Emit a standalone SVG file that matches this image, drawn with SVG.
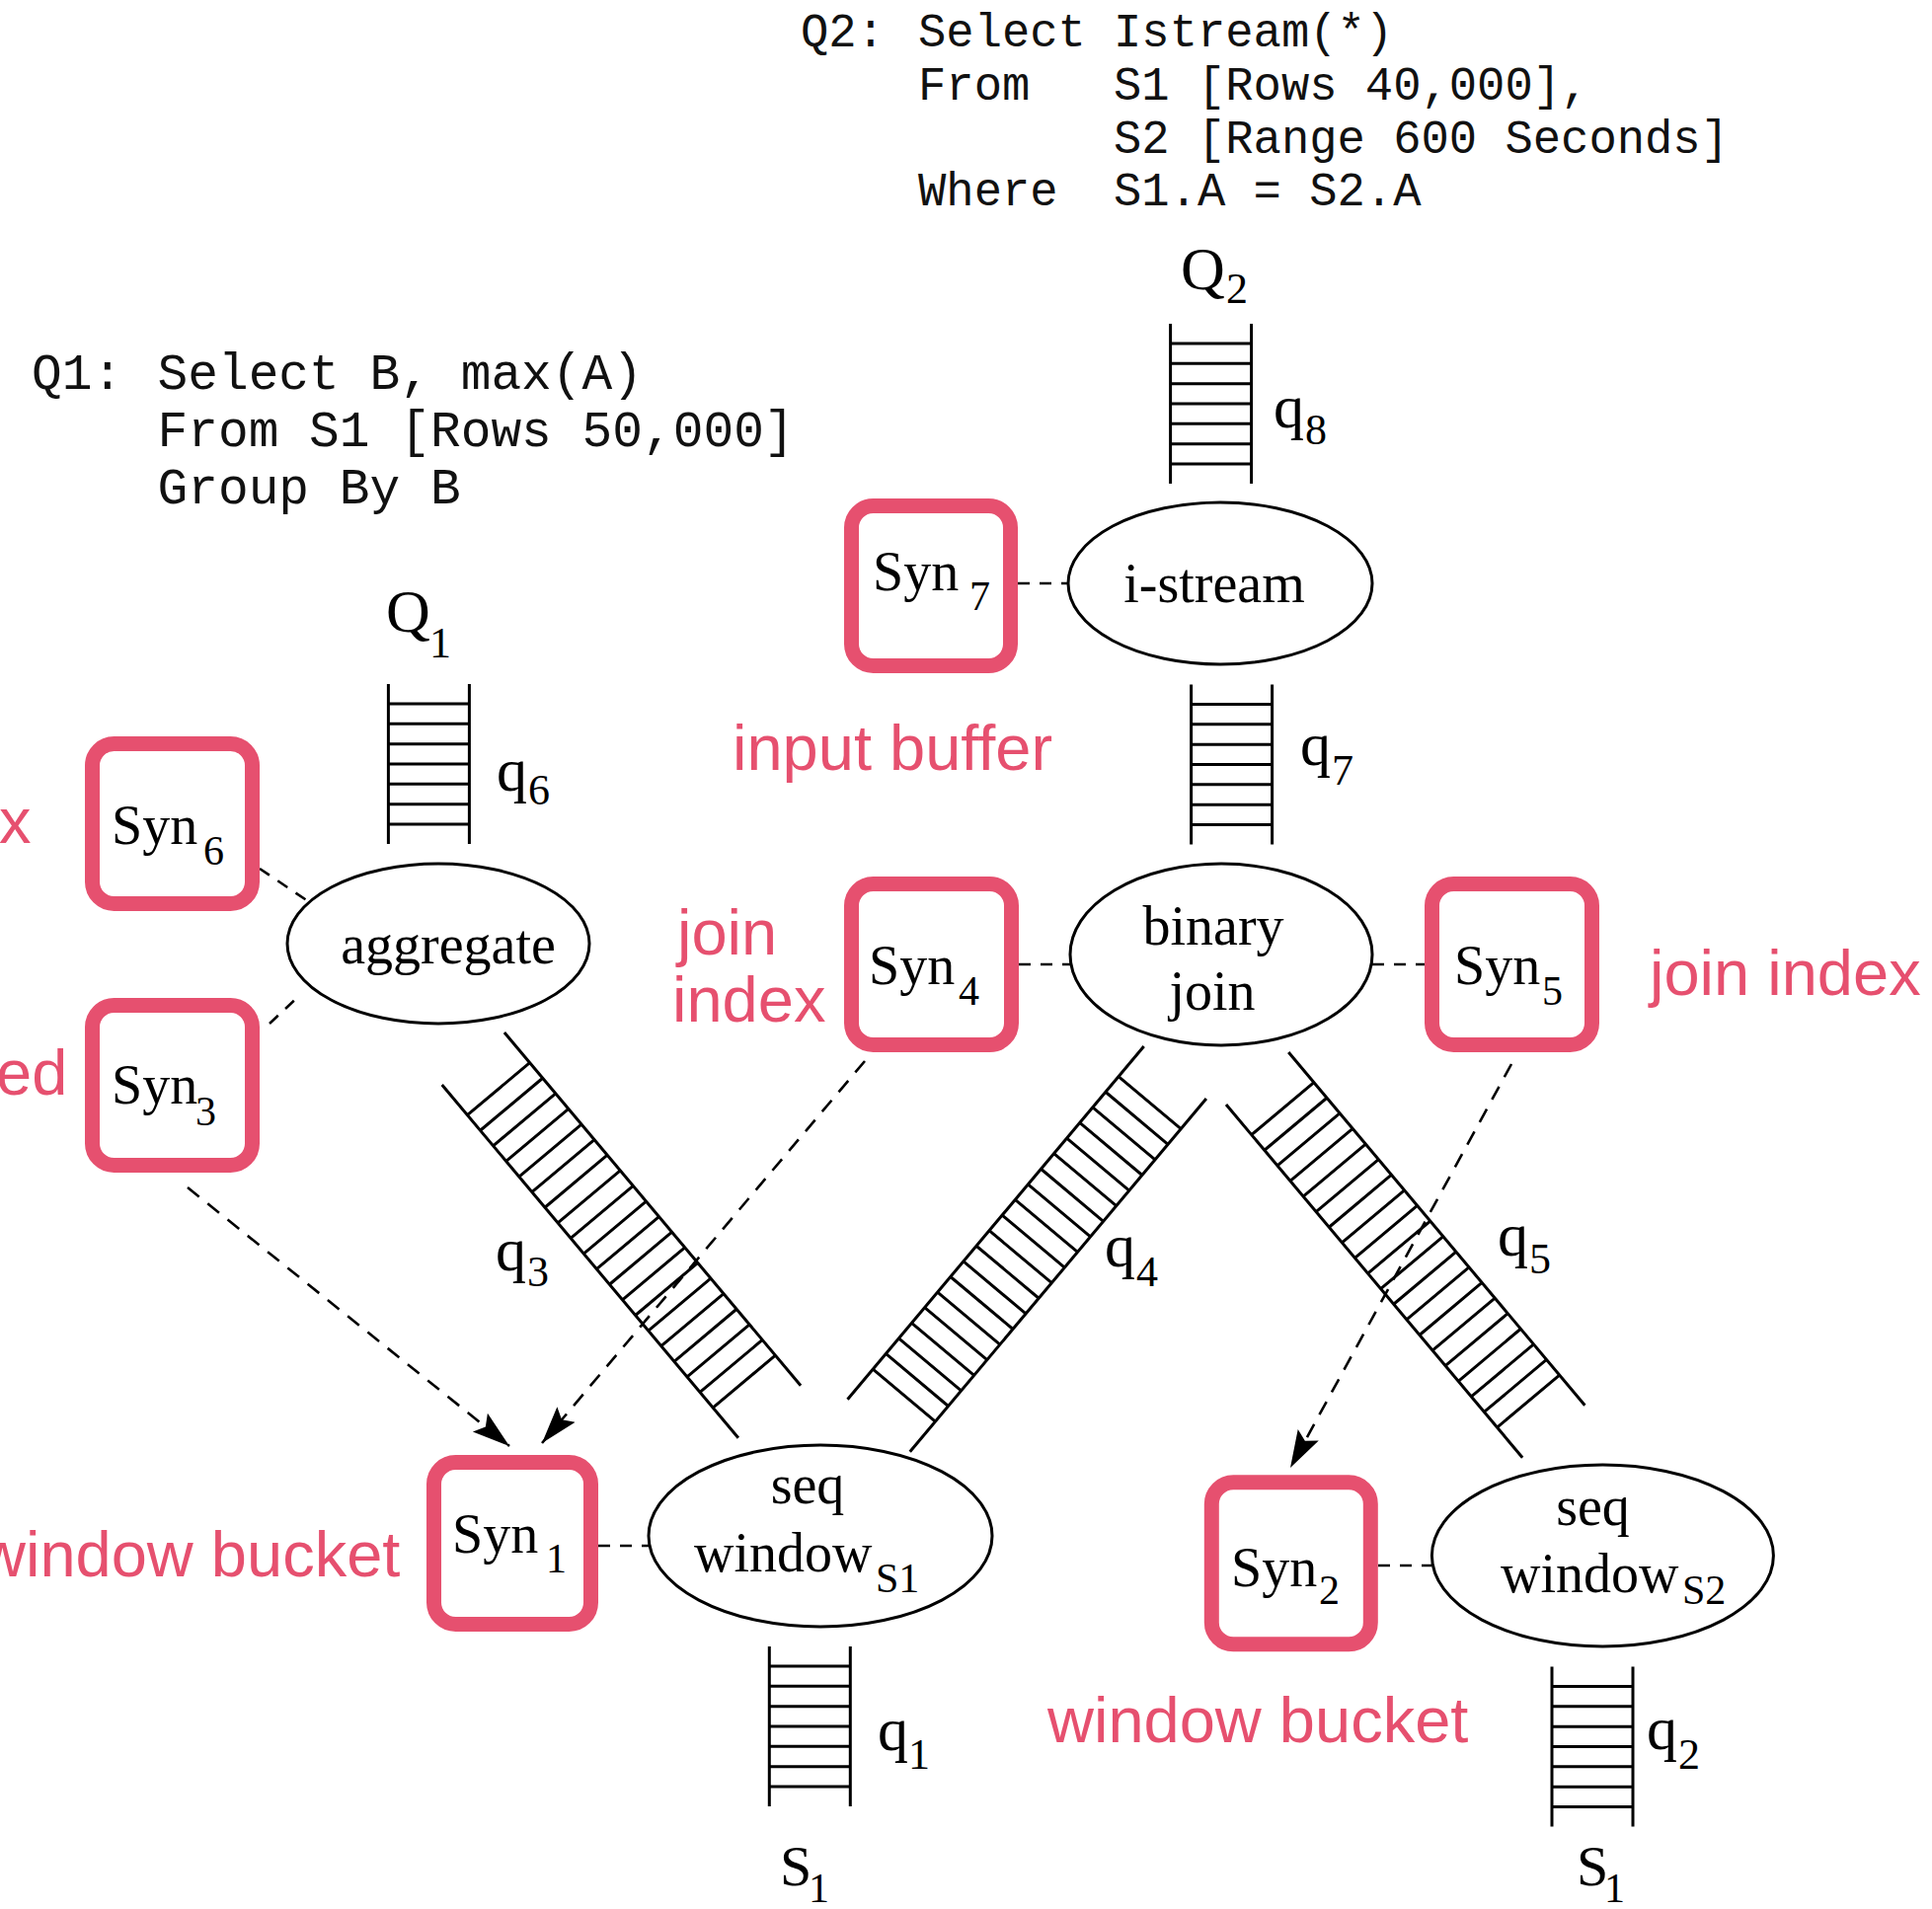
<svg xmlns="http://www.w3.org/2000/svg" xmlns:xlink="http://www.w3.org/1999/xlink" width="1957" height="1934" viewBox="0 0 1957 1934">
  <style>
    .sql { font-family: "Liberation Mono", "Courier New", monospace; fill: #111; }
    .lbl { font-family: "Liberation Serif", "Times New Roman", serif; fill: #000; }
    .note { font-family: "Liberation Sans", Arial, sans-serif; font-size: 65px; fill: #E6506F; }
    .op { fill: #fff; stroke: #000; stroke-width: 3; }
    .syn { fill: #fff; stroke: #E6506F; stroke-width: 15; }
    .queue { fill: none; stroke: #000; stroke-width: 3; }
    .link { fill: none; stroke: #000; stroke-width: 2.6; stroke-dasharray: 12 10; }
    .share { fill: none; stroke: #000; stroke-width: 2.6; stroke-dasharray: 15 11; }
  </style>
  <defs>
    <!-- short vertical queue: two rails with 7 rungs -->
    <path id="ladderV" d="M0,0V162M82,0V162M0,20H82M0,40.3H82M0,60.7H82M0,81H82M0,101.3H82M0,121.7H82M0,142H82"/>
    <!-- long queue used on the slanted edges: 20 rungs -->
    <path id="ladderD" d="M0,0V467M82.5,0V467M0,40H82.5M0,60.4H82.5M0,80.7H82.5M0,101.1H82.5M0,121.5H82.5M0,141.8H82.5M0,162.2H82.5M0,182.6H82.5M0,202.9H82.5M0,223.3H82.5M0,243.7H82.5M0,264H82.5M0,284.4H82.5M0,304.8H82.5M0,325.2H82.5M0,345.5H82.5M0,365.9H82.5M0,386.3H82.5M0,406.6H82.5M0,427H82.5"/>
    <marker id="arrow" markerUnits="userSpaceOnUse" markerWidth="42" markerHeight="28" refX="38" refY="14" orient="auto">
      <path d="M0,2 L38,14 L0,26 L7,14 Z" fill="#000"/>
    </marker>
  </defs>

  <!-- query text -->
  <g id="query-q2" class="sql" font-size="47.2">
    <text x="811" y="47">Q2:</text>
    <text x="930" y="47">Select</text>
    <text x="1128" y="47">Istream(*)</text>
    <text x="930" y="101">From</text>
    <text x="1128" y="101">S1 [Rows 40,000],</text>
    <text x="1128" y="155">S2 [Range 600 Seconds]</text>
    <text x="930" y="208">Where</text>
    <text x="1128" y="208">S1.A = S2.A</text>
  </g>
  <g id="query-q1" class="sql" font-size="51.2">
    <text x="32" y="394">Q1:</text>
    <text x="159.5" y="394">Select B, max(A)</text>
    <text x="159.5" y="452">From S1 [Rows 50,000]</text>
    <text x="159.5" y="510">Group By B</text>
  </g>

  <!-- connectors: dashed synopsis links and shared-synopsis arrows -->
  <g id="connectors">
    <line class="link" x1="1031" y1="591" x2="1082" y2="591"/>
    <line class="link" x1="263" y1="880" x2="312" y2="913"/>
    <line class="link" x1="273" y1="1037" x2="305" y2="1007"/>
    <line class="link" x1="1032" y1="977" x2="1084" y2="977"/>
    <line class="link" x1="1390" y1="977" x2="1443" y2="977"/>
    <line class="link" x1="606" y1="1566" x2="657" y2="1566"/>
    <line class="link" x1="1396" y1="1586" x2="1450" y2="1586"/>
    <line class="share" x1="190" y1="1203" x2="516" y2="1465" marker-end="url(#arrow)"/>
    <line class="share" x1="876" y1="1075" x2="549" y2="1462" marker-end="url(#arrow)"/>
    <line class="share" x1="1531" y1="1078" x2="1307" y2="1487" marker-end="url(#arrow)"/>
  </g>

  <!-- queues -->
  <g id="queue-q8"><use xlink:href="#ladderV" class="queue" transform="translate(1185.6,328)"/>
    <text class="lbl" x="1290" y="433" font-size="62">q</text><text class="lbl" x="1322" y="450" font-size="44">8</text></g>
  <g id="queue-q7"><use xlink:href="#ladderV" class="queue" transform="translate(1206.6,693.5)"/>
    <text class="lbl" x="1317" y="775" font-size="62">q</text><text class="lbl" x="1349" y="795" font-size="44">7</text></g>
  <g id="queue-q6"><use xlink:href="#ladderV" class="queue" transform="translate(393.4,693)"/>
    <text class="lbl" x="503" y="801" font-size="62">q</text><text class="lbl" x="535" y="815" font-size="44">6</text></g>
  <g id="queue-q3"><use xlink:href="#ladderD" class="queue" transform="translate(447.7,1099) rotate(-40)"/>
    <text class="lbl" x="502" y="1287" font-size="62">q</text><text class="lbl" x="534" y="1303" font-size="44">3</text></g>
  <g id="queue-q4"><use xlink:href="#ladderD" class="queue" transform="translate(1158.7,1060) rotate(40)"/>
    <text class="lbl" x="1119" y="1283" font-size="62">q</text><text class="lbl" x="1151" y="1303" font-size="44">4</text></g>
  <g id="queue-q5"><use xlink:href="#ladderD" class="queue" transform="translate(1242,1119) rotate(-40)"/>
    <text class="lbl" x="1517" y="1272" font-size="62">q</text><text class="lbl" x="1549" y="1290" font-size="44">5</text></g>
  <g id="queue-q1"><use xlink:href="#ladderV" class="queue" transform="translate(779.3,1668)"/>
    <text class="lbl" x="889" y="1773" font-size="62">q</text><text class="lbl" x="920" y="1792" font-size="44">1</text></g>
  <g id="queue-q2"><use xlink:href="#ladderV" class="queue" transform="translate(1572,1688.5)"/>
    <text class="lbl" x="1668" y="1772" font-size="62">q</text><text class="lbl" x="1700" y="1792" font-size="44">2</text></g>

  <!-- query outputs and stream inputs -->
  <g id="out-Q2" class="lbl"><text x="1196" y="293" font-size="62">Q</text><text x="1242" y="307" font-size="44">2</text></g>
  <g id="out-Q1" class="lbl"><text x="391" y="640" font-size="62">Q</text><text x="435" y="666" font-size="44">1</text></g>
  <g id="in-S1-left" class="lbl"><text x="790" y="1910" font-size="58">S</text><text x="819" y="1927" font-size="42">1</text></g>
  <g id="in-S1-right" class="lbl"><text x="1597" y="1910" font-size="58">S</text><text x="1625" y="1927" font-size="42">1</text></g>

  <!-- operators -->
  <g id="op-istream">
    <ellipse class="op" cx="1236" cy="591" rx="154" ry="82"/>
    <text class="lbl" x="1230" y="610" font-size="56" text-anchor="middle">i-stream</text>
  </g>
  <g id="op-binary-join">
    <ellipse class="op" cx="1237" cy="967" rx="153" ry="92"/>
    <text class="lbl" x="1229" y="957" font-size="56" text-anchor="middle">binary</text>
    <text class="lbl" x="1228" y="1023" font-size="56" text-anchor="middle">join</text>
  </g>
  <g id="op-aggregate">
    <ellipse class="op" cx="444" cy="956" rx="153" ry="81"/>
    <text class="lbl" x="454" y="976" font-size="56" text-anchor="middle">aggregate</text>
  </g>
  <g id="op-seqwin-s1">
    <ellipse class="op" cx="831" cy="1556" rx="174" ry="92"/>
    <text class="lbl" x="818" y="1523" font-size="56" text-anchor="middle">seq</text>
    <text class="lbl" x="703" y="1592" font-size="56">window</text>
    <text class="lbl" x="887" y="1613" font-size="42">S1</text>
  </g>
  <g id="op-seqwin-s2">
    <ellipse class="op" cx="1623.4" cy="1576" rx="173" ry="92"/>
    <text class="lbl" x="1613.5" y="1545" font-size="56" text-anchor="middle">seq</text>
    <text class="lbl" x="1520" y="1613" font-size="56">window</text>
    <text class="lbl" x="1704" y="1625" font-size="42">S2</text>
  </g>

  <!-- synopses -->
  <g id="syn7"><rect class="syn" x="862.5" y="512.5" width="161" height="162" rx="22"/>
    <text class="lbl" x="884" y="598" font-size="56">Syn</text><text class="lbl" x="982" y="618" font-size="42">7</text></g>
  <g id="syn6"><rect class="syn" x="93.5" y="753.5" width="162" height="162" rx="22"/>
    <text class="lbl" x="113" y="855" font-size="56">Syn</text><text class="lbl" x="206" y="876" font-size="42">6</text></g>
  <g id="syn3"><rect class="syn" x="93.5" y="1018.5" width="162" height="162" rx="22"/>
    <text class="lbl" x="113" y="1118" font-size="56">Syn</text><text class="lbl" x="198" y="1140" font-size="42">3</text></g>
  <g id="syn4"><rect class="syn" x="862.5" y="895.5" width="162" height="163" rx="22"/>
    <text class="lbl" x="880" y="997" font-size="56">Syn</text><text class="lbl" x="971" y="1018" font-size="42">4</text></g>
  <g id="syn5"><rect class="syn" x="1450.5" y="895.5" width="162" height="163" rx="22"/>
    <text class="lbl" x="1473" y="997" font-size="56">Syn</text><text class="lbl" x="1562" y="1018" font-size="42">5</text></g>
  <g id="syn1"><rect class="syn" x="439.5" y="1481.5" width="159" height="164" rx="22"/>
    <text class="lbl" x="458" y="1573" font-size="56">Syn</text><text class="lbl" x="553" y="1593" font-size="42">1</text></g>
  <g id="syn2"><rect class="syn" x="1227.3" y="1501.8" width="161" height="164" rx="22"/>
    <text class="lbl" x="1247" y="1607" font-size="56">Syn</text><text class="lbl" x="1336" y="1625" font-size="42">2</text></g>

  <!-- annotations -->
  <g id="notes" class="note">
    <text x="-1" y="854">x</text>
    <text x="-4" y="1109">ed</text>
    <text x="742" y="780">input buffer</text>
    <text x="686" y="967">join</text>
    <text x="681" y="1035">index</text>
    <text x="1671" y="1008">join index</text>
    <text x="-21" y="1597">window bucket</text>
    <text x="1061" y="1765">window bucket</text>
  </g>
</svg>
